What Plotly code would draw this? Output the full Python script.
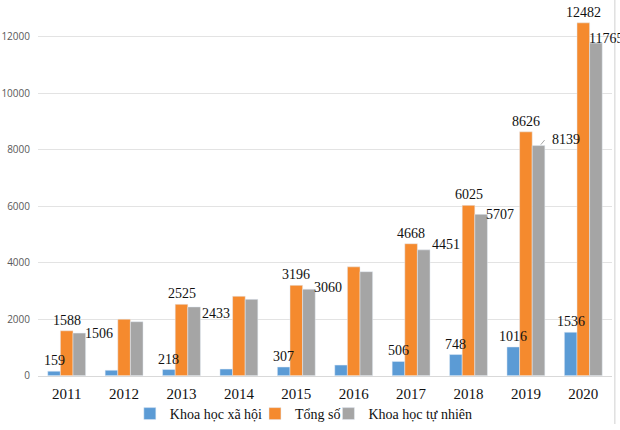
import plotly.graph_objects as go

# Data
years = ["2011", "2012", "2013", "2014", "2015", "2016", "2017", "2018", "2019", "2020"]
social = [159, 190, 218, 235, 307, 375, 506, 748, 1016, 1536]
total = [1588, 2000, 2525, 2810, 3196, 3850, 4668, 6025, 8626, 12482]
natural = [1506, 1910, 2433, 2700, 3060, 3680, 4451, 5707, 8139, 11765]

# Years that carry a data label in the original
labelled = ["2011", "2013", "2015", "2017", "2018", "2019", "2020"]

yTicks = [0, 2000, 4000, 6000, 8000, 10000, 12000]

# Layout constants (reference is 620x430; the figure fills the window)
W, H = 620, 430
mL, mR = 38, 8
plotBottom = 49          # px kept free under the plot for ticks and legend
bargap = 0.34
serif = "Liberation Serif, Times New Roman, serif"
labelFont = dict(family=serif, size=14, color="#111111")
legendFont = dict(family=serif, size=14, color="#111111")

# Pixel geometry of one bar, used to put labels over the right bar of a group
catWidth = (W - mL - mR) / len(years)
barWidth = catWidth * (1 - bargap) / 3

# Excel placed the gray labels by hand: (dx, dy) in px from the bar's top right corner
grayNudge = {"2011": (-3, 0), "2013": (0, -7), "2015": (-3, 2), "2017": (0, 5),
             "2018": (-3, 0), "2019": (5, 6), "2020": (-15, 5)}

fig = go.Figure()

# one legend per series so the entries can sit as tightly as in the original
fig.add_trace(go.Bar(x=years, y=social, name="Khoa học xã hội", legend="legend",
                     marker_color="#5B9BD5", cliponaxis=False))
fig.add_trace(go.Bar(x=years, y=total, name="Tổng số", legend="legend2",
                     marker_color="#F58A2E", cliponaxis=False))
fig.add_trace(go.Bar(x=years, y=natural, name="Khoa học tự nhiên", legend="legend3",
                     marker_color="#A5A5A5", cliponaxis=False))

# Data labels (annotations on a category axis take the category's index)
for i, y in enumerate(years):
    if y not in labelled:
        continue
    fig.add_annotation(x=i, y=social[i], text=str(social[i]), showarrow=False,
                       xanchor="center", yanchor="bottom", xshift=-barWidth, yshift=1,
                       font=labelFont)
    fig.add_annotation(x=i, y=total[i], text=str(total[i]), showarrow=False,
                       xanchor="center", yanchor="bottom", yshift=1,
                       font=labelFont)
    dx, dy = grayNudge.get(y, (0, 0))
    fig.add_annotation(x=i, y=natural[i], text=str(natural[i]), showarrow=False,
                       xanchor="left", yanchor="middle",
                       xshift=1.5 * barWidth + dx, yshift=dy, font=labelFont)

# small leader line next to the 2019 gray label
i2019 = years.index("2019")
fig.add_annotation(x=i2019, y=natural[i2019], text="", showarrow=True, arrowhead=0,
                   arrowwidth=1, arrowcolor="#A6A6A6", standoff=0,
                   xshift=1.5 * barWidth - 4, yshift=1, ax=5, ay=-6)

# legend sits inside the paper area so it does not push the margins
legendY = (H - 420) / H


def legendBox(xPaper):
    return dict(orientation="h", x=xPaper, xanchor="left", y=legendY, yanchor="middle",
                itemwidth=30, font=legendFont, bgcolor="rgba(0,0,0,0)")


fig.update_layout(
    autosize=True,
    margin=dict(l=mL, r=mR, t=0, b=0),
    paper_bgcolor="white", plot_bgcolor="white",
    barmode="group", bargap=bargap, bargroupgap=0,
    showlegend=True,
    legend=legendBox(0.160),
    legend2=legendBox(0.378),
    legend3=legendBox(0.506),
    xaxis=dict(type="category", range=[-0.5, len(years) - 0.5], autorange=False,
               automargin=False, showgrid=False, showline=True, linecolor="#D9D9D9",
               linewidth=1, ticks="", ticklabelstandoff=4,
               tickfont=dict(family=serif, size=15, color="#111111")),
    yaxis=dict(domain=[plotBottom / H, 1], range=[0, 13290], autorange=False,
               automargin=False, tickvals=yTicks, tickformat="d", showgrid=True,
               gridcolor="#E3E3E3", gridwidth=1, zeroline=False, ticklabelstandoff=7,
               tickfont=dict(family="Open Sans, sans-serif", size=10, color="#595959")),
    shapes=[dict(type="line", xref="paper", yref="paper", x0=1.005, x1=1.005,
                 y0=0, y1=1, line=dict(color="#D0D0D0", width=1))],
)

# drop the browser's default page margin so the figure fills the window exactly
pageFix = """
document.body.style.margin = '0';
document.body.style.overflow = 'hidden';
document.documentElement.style.overflow = 'hidden';
"""
fig.write_html("out.html", config={"displayModeBar": False},
               default_width="100vw", default_height="100vh", post_script=pageFix)
